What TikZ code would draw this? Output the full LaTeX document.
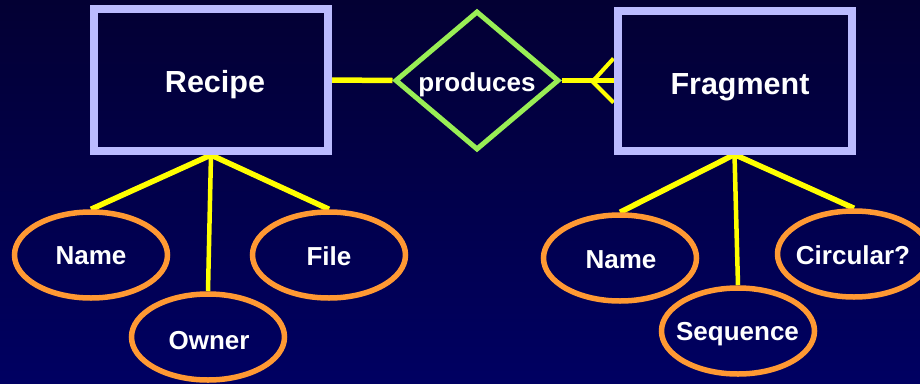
\documentclass[tikz,border=0pt]{standalone}
\usepackage{fontspec}
\setmainfont{Liberation Sans}
\usetikzlibrary{shapes.geometric,calc}

\definecolor{bgtop}{HTML}{030033}
\definecolor{bgbottom}{HTML}{000062}
\definecolor{entityline}{HTML}{BBBBFF}
\definecolor{relationline}{HTML}{99EE55}
\definecolor{attributeline}{HTML}{FF9933}
\definecolor{linkline}{HTML}{FFFF00}

\pgfdeclarelayer{backdrop}
\pgfdeclarelayer{links}
\pgfsetlayers{backdrop,links,main}

\tikzset{
  entity/.style={draw=entityline, line width=8pt, rectangle, inner sep=0pt,
    minimum width=234pt},
  relation/.style={draw=relationline, line width=5pt, diamond, inner sep=0pt,
    minimum width=164pt, minimum height=139pt},
  attribute/.style={draw=attributeline, line width=5.5pt, ellipse, inner sep=0pt,
    minimum width=153pt, minimum height=86pt},
  link/.style={draw=linkline, line width=5.5pt},
  biglabel/.style={text=white, anchor=base, inner sep=0pt,
    font=\bfseries\fontsize{30.5}{36}\selectfont},
  midlabel/.style={text=white, anchor=base, inner sep=0pt,
    font=\bfseries\fontsize{26}{31}\selectfont},
}

\begin{document}
\begin{tikzpicture}[x=1pt,y=-1pt]
  \useasboundingbox (0,0) rectangle (920,383);
  \clip (0,0) rectangle (920,383);

  \begin{pgfonlayer}{backdrop}
    \shade[top color=bgtop, bottom color=bgbottom] (0,0) rectangle (920,383);
  \end{pgfonlayer}

  % entities and relationship
  \node[entity, minimum height=142pt] (recipe) at (211,80) {};
  \node[entity, minimum height=140pt] (fragment) at (734.5,80.5) {};
  \node[relation] (produces) at (477,80.5) {};

  \node[biglabel] (recipelabel) at (215,92) {Recipe};
  \node[biglabel] (fragmentlabel) at (740,94) {Fragment};
  \node[midlabel] (produceslabel) at (477,91) {produces};

  % attributes of Recipe
  \node[attribute] (rname) at (91,255) {};
  \node[attribute] (rowner) at (208,337) {};
  \node[attribute] (rfile) at (329,255) {};
  \node[midlabel] (rnamelabel) at (91,264) {Name};
  \node[midlabel] (rownerlabel) at (209,349) {Owner};
  \node[midlabel] (rfilelabel) at (329,265) {File};

  % attributes of Fragment
  \node[attribute] (fname) at (620,258) {};
  \node[attribute] (fsequence) at (738,331) {};
  \node[attribute] (fcircular) at (854,254) {};
  \node[midlabel] (fnamelabel) at (621,268) {Name};
  \node[midlabel] (fsequencelabel) at (737.5,340) {Sequence};
  \node[midlabel] (fcircularlabel) at (853,264) {Circular?};

  % connectors, kept under the shapes
  \begin{pgfonlayer}{links}
    \draw[link] (recipe.east) -- (produces.west);
    \draw[link] (produces.east) -- (fragment.west);
    \coordinate (crowfoot) at ($(fragment.west)+(-21,1)$);
    \draw[link, line width=4pt] (crowfoot) -- ($(fragment.west)+(0,-22)$);
    \draw[link, line width=4pt] (crowfoot) -- ($(fragment.west)+(0,22)$);

    \draw[link] (recipe.south) -- (rname.north);
    \draw[link, line width=4.5pt] (recipe.south) -- (rowner.north);
    \draw[link] (recipe.south) -- (rfile.north);

    \draw[link] (fragment.south) -- (fname.north);
    \draw[link, line width=4.5pt] (fragment.south) -- (fsequence.north);
    \draw[link] (fragment.south) -- (fcircular.north);
  \end{pgfonlayer}
\end{tikzpicture}
\end{document}
